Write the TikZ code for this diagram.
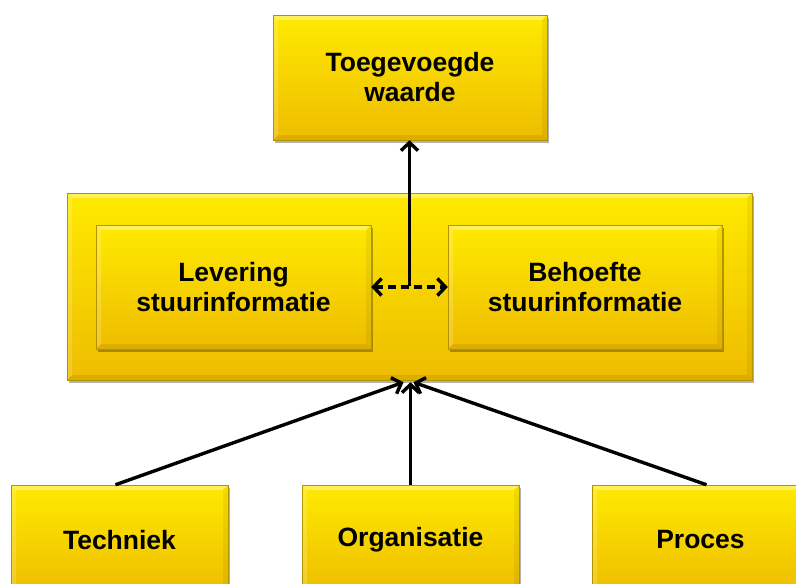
\documentclass[tikz,border=0pt]{standalone}
\usepackage{fontspec}
\setmainfont{Liberation Sans}
\usetikzlibrary{arrows.meta,shadows,calc}

\definecolor{ytop}{RGB}{255,234,0}
\definecolor{ybot}{RGB}{238,188,0}
\definecolor{yedge}{RGB}{180,146,0}

% bevelled edges drawn inside every box
\newcommand\bevelfx{%
  \coordinate (bnw) at (path picture bounding box.north west);
  \coordinate (bne) at (path picture bounding box.north east);
  \coordinate (bsw) at (path picture bounding box.south west);
  \coordinate (bse) at (path picture bounding box.south east);
  \fill[white,opacity=.35] (bnw) -- (bne) -- ([shift={(-5pt,-5pt)}]bne) -- ([shift={(5pt,-5pt)}]bnw) -- cycle;
  \fill[white,opacity=.18] (bnw) -- (bsw) -- ([shift={(5pt,5pt)}]bsw) -- ([shift={(5pt,-5pt)}]bnw) -- cycle;
  \fill[black,opacity=.08] (bsw) -- (bse) -- ([shift={(-5pt,5pt)}]bse) -- ([shift={(5pt,5pt)}]bsw) -- cycle;
  \fill[black,opacity=.06] (bne) -- (bse) -- ([shift={(-5pt,5pt)}]bse) -- ([shift={(-5pt,-5pt)}]bne) -- cycle;
}

\tikzset{
  box/.style={draw=yedge, line width=0.5pt, top color=ytop, bottom color=ybot,
    align=center, inner sep=0pt,
    font=\bfseries\fontsize{26.5}{30}\selectfont,
    drop shadow={shadow xshift=2pt, shadow yshift=-3pt, opacity=0.3, fill=black},
    path picture={\bevelfx}},
  tip/.style={Straight Barb[length=8pt,width=17pt,line width=3.2pt]},
  conn/.style={line width=3.4pt, -{Straight Barb[length=8pt,width=17pt]}},
  twoway/.style={line width=3.4pt, dash pattern=on 8pt off 5pt,
    {Straight Barb[length=8pt,width=17pt]}-{Straight Barb[length=8pt,width=17pt]}},
}

\begin{document}
\begin{tikzpicture}[x=1pt,y=-1pt]
  \useasboundingbox (0,0) rectangle (796,584);
  \clip (0,0) rectangle (796,584);
  \fill[white] (0,0) rectangle (796,584);

  % top box
  \node[box, minimum width=274pt, minimum height=125pt] (top) at (410,77.5)
    {Toegevoegde\\waarde};

  % middle container with its two boxes
  \node[box, minimum width=685pt, minimum height=187pt] (cont) at (409.5,286.5) {};
  \node[box, minimum width=275pt, minimum height=124pt] (lev) at (233.5,287)
    {Levering\\stuurinformatie};
  \node[box, minimum width=274pt, minimum height=124pt] (beh) at (585,287)
    {Behoefte\\stuurinformatie};

  % bottom row
  \node[box, minimum width=217pt, minimum height=110pt] (tech) at (119.5,540) {Techniek};
  \node[box, minimum width=217pt, minimum height=110pt] (org) at (410.5,540) {Organisatie};
  \node[box, minimum width=217pt, minimum height=110pt] (proc) at (700.5,540) {Proces};

  % connectors
  \coordinate (mid) at ($(lev.east)!.5!(beh.west)$);
  \draw[twoway] (lev.east) -- (beh.west);
  \draw[conn] ([yshift=1.5pt]mid) -- (top.south -| mid);

  \draw[conn] ([xshift=-4pt]tech.north) -- ([xshift=-6pt,yshift=-2pt]cont.south);
  \draw[conn] (org.north) -- ([yshift=-2pt]org.north |- cont.south);
  \draw[conn] ([xshift=6pt]proc.north) -- ([xshift=4pt,yshift=-2pt]cont.south);
\end{tikzpicture}
\end{document}
